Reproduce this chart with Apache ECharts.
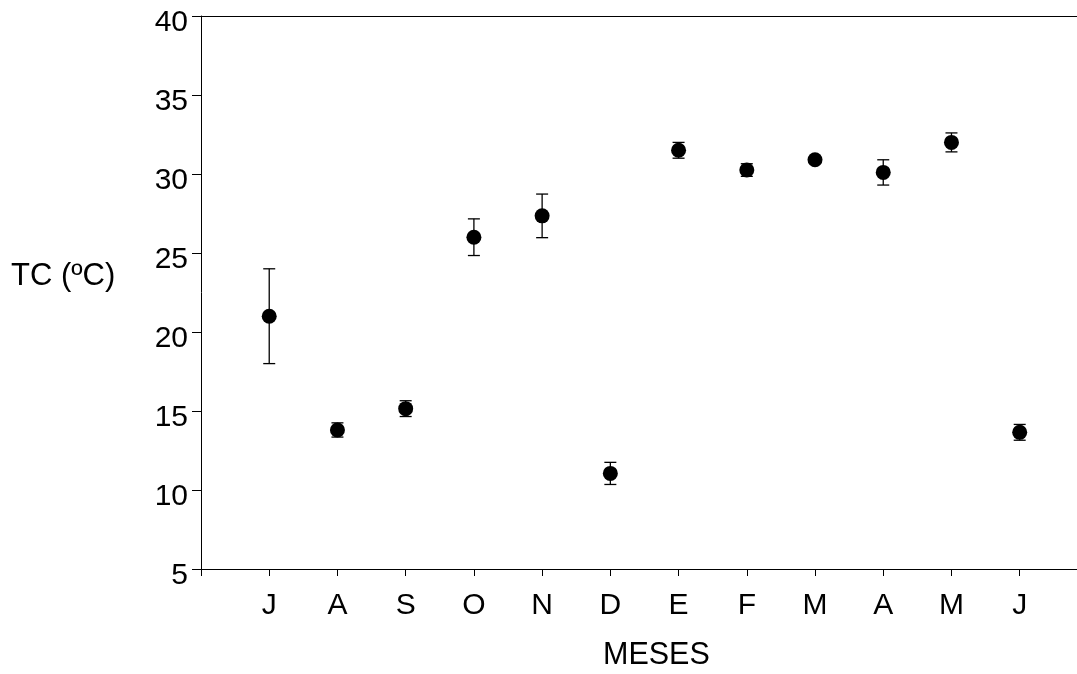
<!DOCTYPE html>
<html>
<head>
<meta charset="utf-8">
<script src="https://cdn.jsdelivr.net/npm/echarts@6/dist/echarts.min.js"></script>
<style>
html,body{margin:0;padding:0;background:#fff;}
#chart{width:1077px;height:674px;}
</style>
</head>
<body>
<div id="chart"></div>
<script>
// Data
var months = ['J','A','S','O','N','D','E','F','M','A','M','J'];
var means = [21.0, 13.8, 15.15, 26.0, 27.35, 11.05, 31.5, 30.25, 30.9, 30.1, 32.0, 13.65];
var errs = [3.0, 0.45, 0.5, 1.16, 1.38, 0.7, 0.5, 0.4, 0.15, 0.8, 0.6, 0.5];
var yTicks = [5, 10, 15, 20, 25, 30, 35, 40];
var xTickPos = [0, 1, 2, 3, 4, 5, 6, 7, 8, 9, 10, 11, 12];

var FONT = '"Liberation Sans", Arial, Helvetica, sans-serif';

var points = means.map(function (m, i) { return [i + 1, m]; });
var bars = means.map(function (m, i) { return [i + 1, m - errs[i], m + errs[i]]; });

var X_MAX = 12.84; // axis runs off the right edge of the picture

var chart = echarts.init(document.getElementById('chart'), null, {renderer: 'canvas'});
chart.setOption({
  animation: false,
  backgroundColor: '#fff',
  grid: {left: 201, right: 0, top: 16, bottom: 105, show: false},
  xAxis: [{
    type: 'value', min: 0, max: X_MAX, interval: 1,
    axisLine: {show: true, onZero: false, lineStyle: {color: '#000', width: 1}},
    axisTick: {show: true, length: 7, inside: false, customValues: xTickPos, lineStyle: {color: '#000'}},
    splitLine: {show: false},
    axisLabel: {
      color: '#000', fontFamily: FONT, fontSize: 30, margin: 22,
      customValues: xTickPos,
      formatter: function (v) { return (v >= 1 && v <= months.length) ? months[Math.round(v) - 1] : ''; }
    }
  }, {
    type: 'value', min: 0, max: X_MAX, position: 'top',
    axisLine: {show: true, onZero: false, lineStyle: {color: '#000', width: 1}},
    axisTick: {show: false}, axisLabel: {show: false}, splitLine: {show: false}
  }],
  yAxis: {
    type: 'value', min: yTicks[0], max: yTicks[yTicks.length - 1], interval: 5,
    axisLine: {show: true, lineStyle: {color: '#000', width: 1}},
    axisTick: {show: true, length: 9, lineStyle: {color: '#000'}},
    splitLine: {show: false},
    axisLabel: {
      color: '#000', fontFamily: FONT, fontSize: 30, margin: 13,
      verticalAlign: 'top', lineHeight: 14
    }
  },
  graphic: [
    {type: 'text', left: 11, top: 261, style: {text: 'TC (ºC)', font: '31px ' + FONT, fill: '#000'}},
    {type: 'text', left: 603, top: 640, style: {text: 'MESES', font: '30.5px ' + FONT, fill: '#000'}}
  ],
  series: [
    {
      type: 'custom',
      data: bars,
      z: 2,
      renderItem: function (params, api) {
        var x = api.value(0);
        var lo = api.coord([x, api.value(1)]);
        var hi = api.coord([x, api.value(2)]);
        var hw = 6;
        var st = {stroke: '#000', lineWidth: 1.3};
        return {
          type: 'group',
          children: [
            {type: 'line', shape: {x1: lo[0], y1: lo[1], x2: hi[0], y2: hi[1]}, style: st},
            {type: 'line', shape: {x1: lo[0] - hw, y1: lo[1], x2: lo[0] + hw, y2: lo[1]}, style: st},
            {type: 'line', shape: {x1: hi[0] - hw, y1: hi[1], x2: hi[0] + hw, y2: hi[1]}, style: st}
          ]
        };
      }
    },
    {
      type: 'scatter',
      data: points,
      symbol: 'circle',
      symbolSize: 15,
      z: 3,
      itemStyle: {color: '#000', opacity: 1}
    }
  ]
});
</script>
</body>
</html>
